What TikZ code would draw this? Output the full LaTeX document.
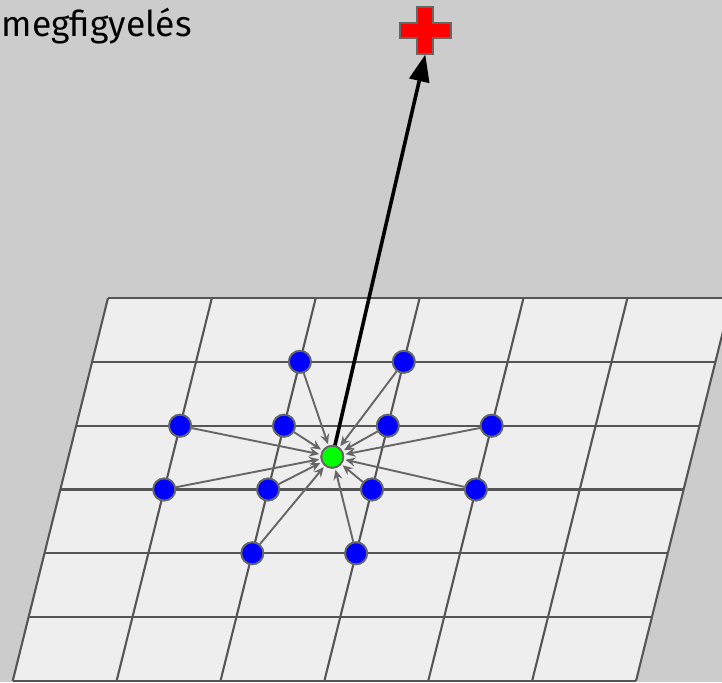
\documentclass[tikz,border=0pt]{standalone}
\usepackage{fontspec}
\setmainfont{Fira Sans}
\usetikzlibrary{arrows.meta}
\definecolor{bgc}{HTML}{CCCCCC}
\definecolor{planec}{HTML}{EEEEEE}
\definecolor{gridc}{HTML}{555555}
\definecolor{edgec}{HTML}{666666}
\definecolor{bluec}{HTML}{0000FF}
\definecolor{greenc}{HTML}{00FF00}
\definecolor{redc}{HTML}{FF0000}
\tikzset{
  gridline/.style={draw=gridc, line width=2.1pt},
  sample/.style={circle, draw=edgec, line width=1.8pt, fill=bluec, minimum size=22pt, inner sep=0pt},
  target/.style={circle, draw=edgec, line width=1.8pt, fill=greenc, minimum size=22pt, inner sep=0pt},
  contrib/.style={draw=edgec, line width=1.9pt, -{Stealth[length=10pt,width=9pt,inset=3.5pt]}, shorten >=1.5pt},
  obsarrow/.style={draw=black, line width=3.6pt, -{Triangle[length=27pt,width=20pt]}},
  crossshape/.style={draw=edgec, line width=2.2pt, fill=redc, line join=miter},
  label/.style={font=\fontsize{35.5}{40}\selectfont, text=black, inner sep=0pt, anchor=base west}
}
\begin{document}
\begin{tikzpicture}[x=1pt,y=-1pt]
\useasboundingbox (0,0) rectangle (722,682);
\clip (0,0) rectangle (722,682);
\fill[bgc] (0,0) rectangle (722,682);
% plane
\fill[planec] (108,298) -- (731.3,298) -- (636,681) -- (12.7,681) -- cycle;
\foreach \i in {0,...,6} {
  \draw[gridline] ({108-95.3*\i/6},{298+383*\i/6}) -- ++(623.3,0);
}
\foreach \k in {0,...,6} {
  \draw[gridline] ({108+103.88*\k},298) -- ({12.7+103.88*\k},681);
}
% nodes
\node[sample] (b1) at (299.9,361.8) {};
\node[sample] (b2) at (403.8,361.8) {};
\node[sample] (b3) at (180.1,425.7) {};
\node[sample] (b4) at (284.0,425.7) {};
\node[sample] (b5) at (387.8,425.7) {};
\node[sample] (b6) at (491.7,425.7) {};
\node[sample] (b7) at (164.2,489.5) {};
\node[sample] (b8) at (268.1,489.5) {};
\node[sample] (b9) at (372.0,489.5) {};
\node[sample] (b10) at (475.9,489.5) {};
\node[sample] (b11) at (252.3,553.3) {};
\node[sample] (b12) at (356.1,553.3) {};
\node[target] (g) at (332.3,456.8) {};
% contributions
\foreach \b in {b1,b2,b3,b4,b5,b6,b7,b8,b9,b10,b11,b12} {
  \draw[contrib] (\b) -- (g);
}
% redraw nodes on top
\foreach \b/\p in {b1/{299.9,361.8},b2/{403.8,361.8},b3/{180.1,425.7},b4/{284.0,425.7},b5/{387.8,425.7},b6/{491.7,425.7},b7/{164.2,489.5},b8/{268.1,489.5},b9/{372.0,489.5},b10/{475.9,489.5},b11/{252.3,553.3},b12/{356.1,553.3}} {
  \node[sample] at (\p) {};
}
\node[target] at (332.3,456.8) {};
% observation
\coordinate (crossbot) at (425.3,54.5);
\draw[obsarrow] (g) -- (crossbot);
\draw[crossshape] (417.3,7.3) -- (433.3,7.3) -- (433.3,23.3) -- (450.7,23.3) -- (450.7,38.3) -- (433.3,38.3) -- (433.3,54.3) -- (417.3,54.3) -- (417.3,38.3) -- (400,38.3) -- (400,23.3) -- (417.3,23.3) -- cycle;
\node[label] (obs) at (1.5,36.7) {megfigyelés};
\end{tikzpicture}
\end{document}
